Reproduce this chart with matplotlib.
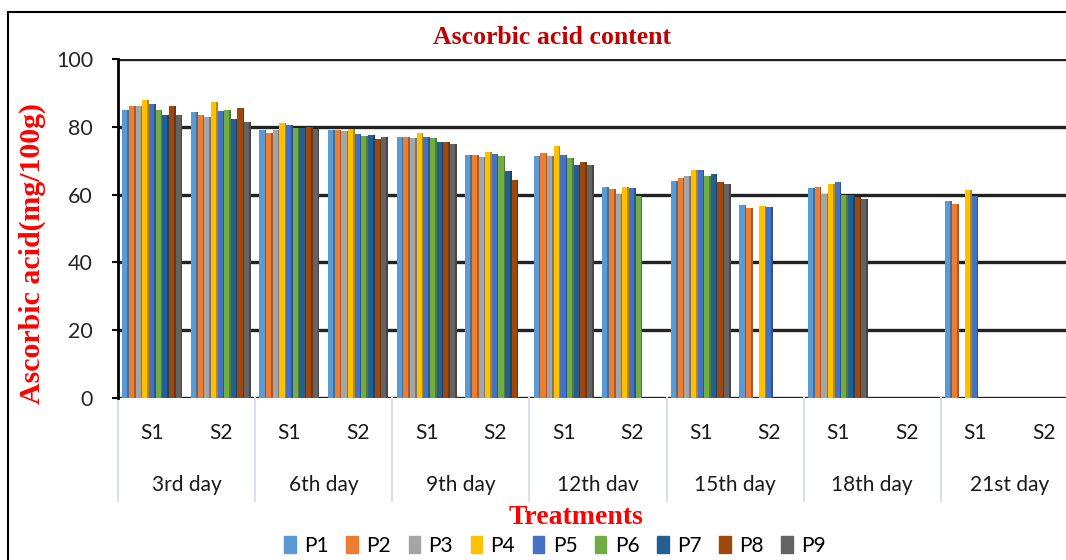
import numpy as np
import matplotlib
matplotlib.use("Agg")
import matplotlib.pyplot as plt
from matplotlib.patches import Rectangle
from matplotlib.colors import to_rgb

days = ["3rd day", "6th day", "9th day", "12th dav", "15th day", "18th day", "21st day"]
subs = ["S1", "S2"]
series_names = ["P1", "P2", "P3", "P4", "P5", "P6", "P7", "P8", "P9"]

# one value per (day, S1/S2) group, in order 3rd S1, 3rd S2, 6th S1, ...
P1 = [85.0, 84.3, 79.2, 79.2, 77.0, 71.6, 71.5, 62.3, 64.1, 57.0, 62.0, 0, 58.1, 0]
P2 = [86.0, 83.4, 78.3, 79.2, 77.0, 71.6, 72.2, 61.7, 65.0, 56.1, 62.3, 0, 57.3, 0]
P3 = [86.0, 83.0, 79.0, 78.7, 76.6, 71.0, 71.5, 60.2, 65.6, 0, 60.2, 0, 0, 0]
P4 = [88.0, 87.4, 81.0, 79.3, 78.3, 72.6, 74.2, 62.3, 67.4, 56.7, 63.2, 0, 61.4, 0]
P5 = [86.6, 84.6, 80.6, 78.0, 77.1, 71.9, 71.6, 62.0, 67.3, 56.4, 63.8, 0, 59.6, 0]
P6 = [85.0, 85.0, 79.6, 77.4, 76.6, 71.3, 70.7, 59.7, 65.6, 0, 60.0, 0, 0, 0]
P7 = [83.6, 82.3, 79.5, 77.6, 75.4, 67.0, 68.8, 0, 66.2, 0, 60.0, 0, 0, 0]
P8 = [86.0, 85.4, 79.8, 76.3, 75.4, 64.4, 69.7, 0, 63.8, 0, 59.3, 0, 0, 0]
P9 = [83.4, 81.5, 79.3, 77.0, 74.8, 0, 68.6, 0, 63.2, 0, 58.8, 0, 0, 0]
series = [P1, P2, P3, P4, P5, P6, P7, P8, P9]

colors = ["#5B9BD5", "#ED7D31", "#A5A5A5", "#FFC000", "#4472C4",
          "#70AD47", "#255E91", "#9E480E", "#636363"]

fig = plt.figure(figsize=(10.66, 5.6), dpi=100)
W, H = 1066, 560
# plot area in pixel terms (reference runs slightly past the right edge)
ax = fig.add_axes([118 / W, 1 - 398 / H, (1078 - 118) / W, (398 - 59) / H])

n_groups = len(P1)
x = np.arange(n_groups)
bw = 0.097
side = 0.022
for i, (vals, c) in enumerate(zip(series, colors)):
    pos = x - 0.4365 + (i + 0.5) * bw
    ax.bar(pos, vals, width=bw, color=c, zorder=3, label=series_names[i])
    dark = tuple(v * 0.72 for v in to_rgb(c))
    ax.bar(pos + bw / 2 - side / 2, vals, width=side, color=dark, zorder=3.5)

ax.set_xlim(-0.5, n_groups - 0.5)
ax.set_ylim(0, 100)
ax.set_yticks([0, 20, 40, 60, 80, 100])
ax.yaxis.grid(True, color="#222222", linewidth=2.4)
ax.set_axisbelow(True)
for s in ["top", "right", "bottom"]:
    ax.spines[s].set_visible(False)
ax.spines["left"].set_linewidth(2)
ax.spines["left"].set_color("black")
ax.tick_params(axis="y", length=4, width=1.5, pad=14, labelsize=15.5,
               labelcolor="#262626")
for lab in ax.get_yticklabels():
    lab.set_family("Lato")
ax.set_xticks([])

# two-level category axis
trans = ax.get_xaxis_transform()
for g in range(n_groups):
    ax.text(g, -0.103, subs[g % 2], transform=trans, ha="center", va="center",
            fontsize=15, family="Lato", color="#1a1a1a")
for d, name in enumerate(days):
    ax.text(2 * d + 0.5, -0.257, name, transform=trans, ha="center", va="center",
            fontsize=15, family="Lato", color="#1a1a1a")
for b in range(len(days) + 1):
    ax.plot([2 * b - 0.5, 2 * b - 0.5], [0, -0.305], transform=trans,
            color="#D9DEE8", linewidth=1.5, clip_on=False)

fig.text(552 / W, 1 - 38 / H, "Ascorbic acid content", ha="center", va="center",
         fontsize=18.5, fontweight="bold", family="Liberation Serif", color="#C00000")
fig.text(32 / W, 1 - 254 / H, "Ascorbic acid(mg/100g)", ha="center", va="center",
         rotation=90, fontsize=21.5, fontweight="bold", family="Liberation Serif",
         color="#FF0000")
fig.text(576 / W, 1 - 517 / H, "Treatments", ha="center", va="center",
         fontsize=20, fontweight="bold", family="Liberation Serif", color="#FF0000")

handles = [Rectangle((0, 0), 1, 1, color=c) for c in colors]
fig.legend(handles, series_names, loc="center", bbox_to_anchor=(555 / W, 1 - 546 / H),
           ncol=9, frameon=False, handlelength=0.55, handleheight=0.9,
           handletextpad=0.4, columnspacing=0.85,
           prop={"family": "Lato", "size": 15})

# outer chart border
fig.patches.append(Rectangle((8 / W, -0.05), 1.1, 1 - 12 / H + 0.05,
                             transform=fig.transFigure, fill=False,
                             edgecolor="black", linewidth=1.5))

fig.savefig("out.png", dpi=100)
